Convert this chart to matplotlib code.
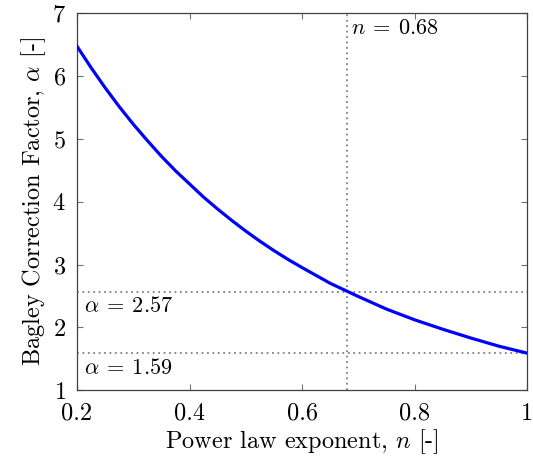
import numpy as np
import matplotlib
matplotlib.use("Agg")
import matplotlib.pyplot as plt

# LaTeX/pgfplots look: Computer Modern text and math
plt.rcParams['font.family'] = 'serif'
plt.rcParams['font.serif'] = ['cmr10', 'DejaVu Serif']
plt.rcParams['mathtext.fontset'] = 'cm'
plt.rcParams['axes.formatter.use_mathtext'] = True

# values
n_vals = [0.200, 0.225, 0.250, 0.275, 0.300, 0.325, 0.350, 0.375, 0.400,
          0.425, 0.450, 0.475, 0.500, 0.525, 0.550, 0.575, 0.600,
          0.650, 0.700, 0.750, 0.800, 0.850, 0.900, 0.950, 1.000]
alpha_vals = [6.47, 6.13, 5.81, 5.51, 5.23, 4.97, 4.72, 4.49, 4.28,
              4.07, 3.88, 3.70, 3.53, 3.37, 3.22, 3.08, 2.95,
              2.70, 2.49, 2.29, 2.12, 1.97, 1.83, 1.70, 1.59]
n_mark = 0.68
alpha_marks = [2.57, 1.59]
x_ticks = [0.2, 0.4, 0.6, 0.8, 1.0]
x_ticklabels = ['0.2', '0.4', '0.6', '0.8', '1']
y_ticks = [1, 2, 3, 4, 5, 6, 7]

fig = plt.figure(figsize=(5.33, 4.63), dpi=100)
ax = fig.add_axes([0.1445, 0.157, 0.845, 0.815])

gray = '#808080'
ax.axvline(n_mark, color=gray, ls=(0, (1, 2)), lw=1.3, zorder=1)
for a in alpha_marks:
    ax.axhline(a, color=gray, ls=(0, (1, 2)), lw=1.3, zorder=1)

ax.plot(n_vals, alpha_vals, color='#0000ff', lw=2.3, zorder=3)

ax.text(n_mark + 0.006, 6.92, r'$n \:=\: 0.68$', fontsize=16, va='top', ha='left')
ax.text(0.212, alpha_marks[0] - 0.07, r'$\alpha \:=\: 2.57$', fontsize=16, va='top', ha='left')
ax.text(0.212, alpha_marks[1] - 0.07, r'$\alpha \:=\: 1.59$', fontsize=16, va='top', ha='left')

ax.set_xlim(0.2, 1.0)
ax.set_ylim(1, 7)
ax.set_xticks(x_ticks)
ax.set_xticklabels(x_ticklabels)
ax.set_yticks(y_ticks)
ax.tick_params(direction='in', length=4.5, width=0.8, color='#707070',
               top=True, right=True, labelsize=17.5)
ax.tick_params(axis='x', pad=9)
ax.tick_params(axis='y', pad=8)
for s in ax.spines.values():
    s.set_color('#404040')
    s.set_linewidth(0.9)

ax.set_xlabel(r'Power law exponent, $n$ [-]', fontsize=17.5, labelpad=2)
ax.set_ylabel(r'Bagley Correction Factor, $\alpha$ [-]', fontsize=17.5, labelpad=3)

fig.savefig('out.png', dpi=100)
